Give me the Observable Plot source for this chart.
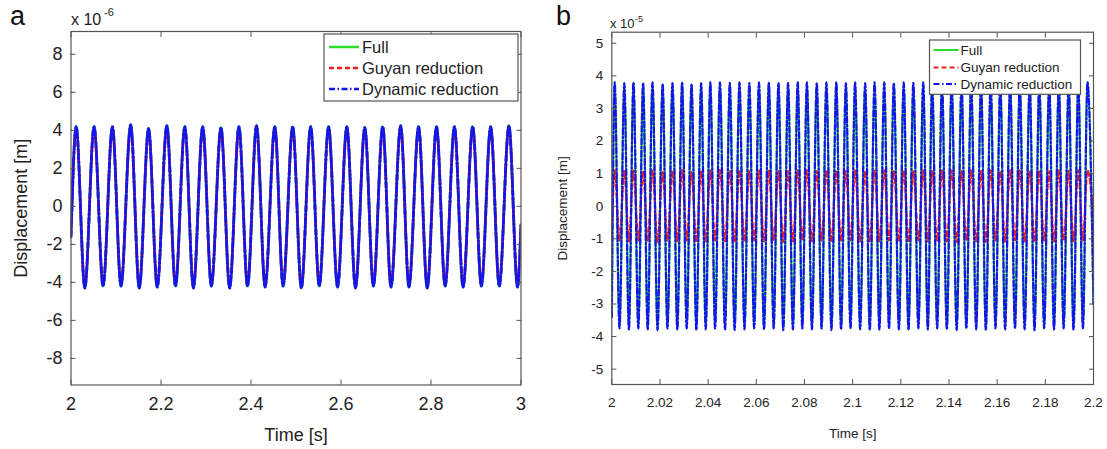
<!DOCTYPE html>
<html><head><meta charset="utf-8">
<script src="https://cdn.jsdelivr.net/npm/d3@7"></script>
<script src="https://cdn.jsdelivr.net/npm/@observablehq/plot@0.6"></script>
<style>
body{margin:0;background:#fff;}
#wrap{position:relative;width:1107px;height:449px;overflow:hidden;background:#fff;}
#wrap > div{position:absolute;top:0;}
#wrap svg{display:block;}
#overlay{position:absolute;left:0;top:0;pointer-events:none;}
</style></head><body>
<div id="wrap"><div id="pa" style="left:0"></div><div id="pb" style="left:545px"></div></div>
<script>
// ---------- Panel (a): displacement in units of 1e-6 m (extrema) ----------
const tA = [2.0000,
  2.0115, 2.0307, 2.0513, 2.0713, 2.0920, 2.1111, 2.1326, 2.1517, 2.1724, 2.1916,
  2.2130, 2.2322, 2.2529, 2.2720, 2.2927, 2.3119, 2.3333, 2.3525, 2.3732, 2.3923,
  2.4123, 2.4314, 2.4529, 2.4713, 2.4927, 2.5119, 2.5326, 2.5517, 2.5724, 2.5923,
  2.6130, 2.6322, 2.6529, 2.6720, 2.6927, 2.7111, 2.7326, 2.7510, 2.7724, 2.7916,
  2.8123, 2.8314, 2.8521, 2.8713, 2.8927, 2.9119, 2.9326, 2.9517, 2.9732, 2.9923,
  3.0000];
const fullA = [-1.6,
  4.2, -4.3, 4.2, -4.2, 4.2, -4.2, 4.3, -4.3, 4.1, -4.25,
  4.25, -4.2, 4.2, -4.3, 4.2, -4.2, 4.15, -4.3, 4.2, -4.2,
  4.25, -4.25, 4.2, -4.2, 4.2, -4.3, 4.2, -4.2, 4.2, -4.25,
  4.2, -4.3, 4.15, -4.2, 4.2, -4.25, 4.25, -4.25, 4.2, -4.3,
  4.2, -4.2, 4.2, -4.25, 4.2, -4.2, 4.2, -4.2, 4.25, -4.25,
  -1.0];
const guyanA = [-1.5,
  4.1, -4.2, 4.1, -4.1, 4.1, -4.1, 4.2, -4.2, 4.0, -4.15,
  4.15, -4.1, 4.1, -4.2, 4.1, -4.1, 4.05, -4.2, 4.1, -4.1,
  4.15, -4.15, 4.1, -4.1, 4.1, -4.2, 4.1, -4.1, 4.1, -4.15,
  4.1, -4.2, 4.05, -4.1, 4.1, -4.15, 4.15, -4.15, 4.1, -4.2,
  4.1, -4.1, 4.1, -4.15, 4.1, -4.1, 4.1, -4.1, 4.15, -4.15,
  -0.9];
const dynA = [-1.6,
  4.2, -4.3, 4.2, -4.2, 4.2, -4.2, 4.3, -4.3, 4.1, -4.25,
  4.25, -4.2, 4.2, -4.3, 4.2, -4.2, 4.15, -4.3, 4.2, -4.2,
  4.25, -4.25, 4.2, -4.2, 4.2, -4.3, 4.2, -4.2, 4.2, -4.25,
  4.2, -4.3, 4.15, -4.2, 4.2, -4.25, 4.25, -4.25, 4.2, -4.3,
  4.2, -4.2, 4.2, -4.25, 4.2, -4.2, 4.2, -4.2, 4.25, -4.25,
  -1.0];
const xTicksA = [2, 2.2, 2.4, 2.6, 2.8, 3];
const yTicksA = [-8, -6, -4, -2, 0, 2, 4, 6, 8];

// ---------- Panel (b): displacement in units of 1e-5 m (extrema) ----------
const tB = [2.0000,
  2.0012, 2.0032, 2.0052, 2.0071, 2.0090, 2.0110, 2.0130, 2.0149, 2.0169, 2.0190,
  2.0211, 2.0231, 2.0252, 2.0272, 2.0292, 2.0311, 2.0331, 2.0351, 2.0371, 2.0390,
  2.0409, 2.0429, 2.0449, 2.0470, 2.0490, 2.0510, 2.0530, 2.0551, 2.0571, 2.0591,
  2.0611, 2.0632, 2.0652, 2.0672, 2.0692, 2.0712, 2.0732, 2.0752, 2.0772, 2.0791,
  2.0810, 2.0831, 2.0851, 2.0871, 2.0891, 2.0912, 2.0932, 2.0952, 2.0972, 2.0991,
  2.1010, 2.1031, 2.1052, 2.1071, 2.1091, 2.1111, 2.1131, 2.1151, 2.1171, 2.1192,
  2.1212, 2.1232, 2.1252, 2.1273, 2.1293, 2.1312, 2.1330, 2.1351, 2.1371, 2.1391,
  2.1411, 2.1432, 2.1452, 2.1472, 2.1492, 2.1513, 2.1533, 2.1553, 2.1573, 2.1593,
  2.1613, 2.1633, 2.1654, 2.1674, 2.1694, 2.1714, 2.1735, 2.1755, 2.1775, 2.1795,
  2.1816, 2.1836, 2.1856, 2.1876, 2.1897, 2.1917, 2.1937, 2.1956, 2.1975,
  2.2000];
const fullB = [-3.4,
  3.80, -3.75, 3.78, -3.78, 3.80, -3.75, 3.78, -3.78, 3.80, -3.80,
  3.75, -3.75, 3.78, -3.78, 3.80, -3.75, 3.75, -3.80, 3.78, -3.78,
  3.80, -3.75, 3.80, -3.78, 3.78, -3.80, 3.80, -3.78, 3.78, -3.75,
  3.80, -3.78, 3.80, -3.75, 3.78, -3.80, 3.78, -3.78, 3.80, -3.75,
  3.80, -3.78, 3.78, -3.75, 3.80, -3.80, 3.80, -3.78, 3.78, -3.75,
  3.80, -3.78, 3.78, -3.80, 3.80, -3.78, 3.80, -3.75, 3.78, -3.78,
  3.80, -3.80, 3.78, -3.75, 3.80, -3.78, 3.78, -3.75, 3.80, -3.78,
  3.80, -3.80, 3.78, -3.75, 3.80, -3.78, 3.78, -3.80, 3.80, -3.75,
  3.78, -3.78, 3.80, -3.75, 3.80, -3.78, 3.78, -3.80, 3.80, -3.75,
  3.78, -3.78, 3.80, -3.75, 3.78, -3.78, 3.80, -3.75, 3.80,
  -3.0];
const guyanB = [-0.9,
  1.10, -1.05, 1.08, -1.08, 1.10, -1.05, 1.08, -1.08, 1.10, -1.10,
  1.05, -1.05, 1.08, -1.08, 1.12, -1.05, 1.05, -1.10, 1.08, -1.08,
  1.10, -1.05, 1.12, -1.08, 1.08, -1.10, 1.10, -1.08, 1.08, -1.05,
  1.10, -1.08, 1.10, -1.05, 1.08, -1.10, 1.08, -1.08, 1.10, -1.05,
  1.10, -1.08, 1.08, -1.05, 1.10, -1.10, 1.10, -1.08, 1.08, -1.05,
  1.10, -1.08, 1.08, -1.10, 1.10, -1.08, 1.10, -1.05, 1.08, -1.08,
  1.10, -1.10, 1.08, -1.05, 1.10, -1.08, 1.08, -1.05, 1.10, -1.08,
  1.10, -1.10, 1.08, -1.05, 1.10, -1.08, 1.08, -1.10, 1.10, -1.05,
  1.08, -1.08, 1.10, -1.05, 1.10, -1.08, 1.08, -1.10, 1.10, -1.05,
  1.08, -1.08, 1.10, -1.05, 1.08, -1.08, 1.10, -1.05, 1.10,
  -0.4];
const dynB = [-3.4,
  3.80, -3.75, 3.78, -3.78, 3.80, -3.75, 3.78, -3.78, 3.80, -3.80,
  3.75, -3.75, 3.78, -3.78, 3.80, -3.75, 3.75, -3.80, 3.78, -3.78,
  3.80, -3.75, 3.80, -3.78, 3.78, -3.80, 3.80, -3.78, 3.78, -3.75,
  3.80, -3.78, 3.80, -3.75, 3.78, -3.80, 3.78, -3.78, 3.80, -3.75,
  3.80, -3.78, 3.78, -3.75, 3.80, -3.80, 3.80, -3.78, 3.78, -3.75,
  3.80, -3.78, 3.78, -3.80, 3.80, -3.78, 3.80, -3.75, 3.78, -3.78,
  3.80, -3.80, 3.78, -3.75, 3.80, -3.78, 3.78, -3.75, 3.80, -3.78,
  3.80, -3.80, 3.78, -3.75, 3.80, -3.78, 3.78, -3.80, 3.80, -3.75,
  3.78, -3.78, 3.80, -3.75, 3.80, -3.78, 3.78, -3.80, 3.80, -3.75,
  3.78, -3.78, 3.80, -3.75, 3.78, -3.78, 3.80, -3.75, 3.80,
  -3.0];
const xTicksB = [2, 2.02, 2.04, 2.06, 2.08, 2.1, 2.12, 2.14, 2.16, 2.18, 2.2];
const yTicksB = [-5, -4, -3, -2, -1, 0, 1, 2, 3, 4, 5];

const seriesNames = ["Full", "Guyan reduction", "Dynamic reduction"];
const GREEN = "#2edc2e", RED = "#e82020", BLUE = "#1414ee";
const DASH_RED = "5,3", DASH_BLUE = "6,2.5,1.5,2.5";

const rowsA = tA.map((t, i) => ({t, full: fullA[i], guyan: guyanA[i], dyn: dynA[i]}));
const rowsB = tB.map((t, i) => ({t, full: fullB[i], guyan: guyanB[i], dyn: dynB[i]}));

const fmt = d => String(+(+d).toFixed(2));
const FONT = "'Liberation Sans', Arial, Helvetica, sans-serif";

function panel(o) {
  const lineOpts = {x: "t", curve: "monotone-x", clip: true, strokeWidth: o.sw};
  return Plot.plot({
    width: o.width, height: 449,
    marginLeft: o.ml, marginRight: o.mr, marginTop: o.mt, marginBottom: o.mb,
    style: {fontFamily: FONT, fontSize: o.fs + "px", color: "#222", background: "transparent"},
    x: {domain: o.xDomain, axis: null},
    y: {domain: o.yDomain, axis: null},
    marks: [
      Plot.line(o.rows, {...lineOpts, y: "full", stroke: GREEN}),
      Plot.line(o.rows, {...lineOpts, y: "guyan", stroke: RED, strokeDasharray: DASH_RED}),
      Plot.line(o.rows, {...lineOpts, y: "dyn", stroke: BLUE, strokeDasharray: DASH_BLUE}),
      Plot.frame({stroke: "#555", strokeWidth: 1.2}),
      Plot.axisX(o.xTicks, {anchor: "bottom", tickSize: -5, tickPadding: o.xPad, tickFormat: fmt,
        stroke: "#555", fill: "#222", label: "Time [s]", labelAnchor: "center", labelArrow: "none", labelOffset: o.xLab}),
      Plot.axisX(o.xTicks, {anchor: "top", tickSize: -5, tickFormat: () => "", stroke: "#555", label: null}),
      Plot.axisY(o.yTicks, {anchor: "left", tickSize: -5, tickPadding: o.yPad, tickFormat: fmt,
        stroke: "#555", fill: "#222", label: "Displacement [m]", labelAnchor: "center", labelArrow: "none", labelOffset: o.yLab}),
      Plot.axisY(o.yTicks, {anchor: "right", tickSize: -5, tickFormat: () => "", stroke: "#555", label: null})
    ]
  });
}

document.getElementById("pa").append(panel({
  rows: rowsA, width: 545, ml: 70.5, mr: 24.5, mt: 31, mb: 64.5,
  xDomain: [2, 3], yDomain: [-9.4, 9.2], xTicks: xTicksA, yTicks: yTicksA,
  fs: 18, sw: 2.8, xPad: 17.5, yPad: 13.5, xLab: 55.5, yLab: 57
}));
document.getElementById("pb").append(panel({
  rows: rowsB, width: 562, ml: 66.3, mr: 14, mt: 31.7, mb: 65,
  xDomain: [2, 2.2], yDomain: [-5.47, 5.34], xTicks: xTicksB, yTicks: yTicksB,
  fs: 13.5, sw: 2.2, xPad: 18, yPad: 13.6, xLab: 53, yLab: 54
}));

// ---------- Overlay: panel letters, exponent labels, legends ----------
const NS = "http://www.w3.org/2000/svg";
const ov = document.createElementNS(NS, "svg");
ov.setAttribute("id", "overlay");
ov.setAttribute("width", 1107); ov.setAttribute("height", 449);
ov.style.fontFamily = FONT;
document.getElementById("wrap").append(ov);
function el(tag, attrs, text) {
  const e = document.createElementNS(NS, tag);
  for (const k in attrs) e.setAttribute(k, attrs[k]);
  if (text != null) e.textContent = text;
  ov.append(e); return e;
}
el("text", {x: 10, y: 24.5, "font-size": 27, fill: "#111"}, "a");
el("text", {x: 556, y: 25, "font-size": 27, fill: "#111"}, "b");
el("text", {x: 71, y: 25, "font-size": 16, fill: "#222"}, "x 10");
el("text", {x: 104, y: 16, "font-size": 11, fill: "#222"}, "-6");
el("text", {x: 610, y: 27.5, "font-size": 13, fill: "#222"}, "x 10");
el("text", {x: 635, y: 21.5, "font-size": 9, fill: "#222"}, "-5");

function legend(x, y, w, h, rows, l0, l1, tx, fs, sw) {
  el("rect", {x, y, width: w, height: h, fill: "#fff", stroke: "#555", "stroke-width": 1.2});
  const styles = [
    {stroke: GREEN}, {stroke: RED, "stroke-dasharray": DASH_RED}, {stroke: BLUE, "stroke-dasharray": DASH_BLUE}
  ];
  seriesNames.forEach((name, i) => {
    el("line", {x1: x + l0, x2: x + l1, y1: rows[i], y2: rows[i], "stroke-width": sw, ...styles[i]});
    el("text", {x: x + tx, y: rows[i], "font-size": fs, fill: "#222", "dominant-baseline": "central"}, name);
  });
}
legend(324, 34, 194, 67, [47, 68, 89], 5, 35, 38, 16.5, 2.5);
legend(929.5, 40, 151, 54.3, [50, 67.5, 84], 4, 29, 31, 13.5, 2);
</script>
</body></html>
